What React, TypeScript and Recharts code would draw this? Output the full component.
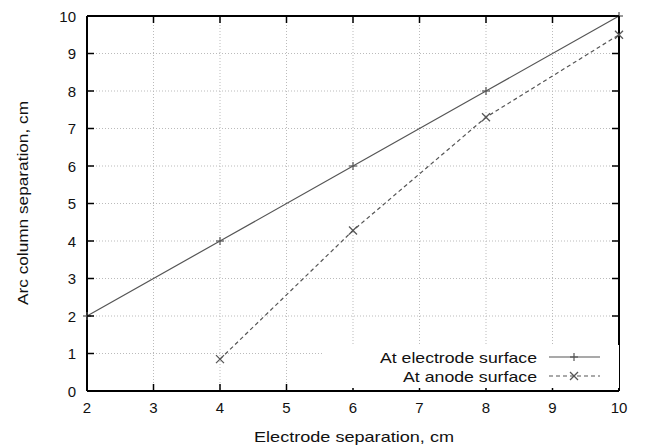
import React from 'react';
import { LineChart, Line, XAxis, YAxis, CartesianGrid, ReferenceLine } from 'recharts';

// electrode separation (cm) and arc column separation (cm)
const electrodeSep = [2, 4, 6, 8, 10];
const arcAtElectrode = [2, 4, 6, 8, 10];
const anodeSep = [4, 6, 8, 10];
const arcAtAnode = [0.85, 4.28, 7.3, 9.5];

const xTicks = [2, 3, 4, 5, 6, 7, 8, 9, 10];
const yTicks = [0, 1, 2, 3, 4, 5, 6, 7, 8, 9, 10];
const xEdges = [2, 10];
const yEdges = [0, 10];

const seriesNames = ['At electrode surface', 'At anode surface'];
const xTitle = 'Electrode separation, cm';
const yTitle = 'Arc column separation, cm';

const electrodeData = electrodeSep.map((x, i) => ({ x, y: arcAtElectrode[i] }));
const anodeData = anodeSep.map((x, i) => ({ x, y: arcAtAnode[i] }));

const FONT = '"Liberation Sans", Arial, sans-serif';
const LINE = '#555';
const TICK = 7;

const bottomTick = (p: any) => (
  <g>
    <line x1={p.x} y1={p.y} x2={p.x} y2={p.y - TICK} stroke="#000" strokeWidth={1.5} />
    <text x={p.x} y={p.y + 22} textAnchor="middle" fontSize={15} fontFamily={FONT} fill="#111">
      {p.payload.value}
    </text>
  </g>
);

const topTick = (p: any) => (
  <line x1={p.x} y1={p.y} x2={p.x} y2={p.y + TICK} stroke="#000" strokeWidth={1.5} />
);

const leftTick = (p: any) => (
  <g>
    <line x1={p.x} y1={p.y} x2={p.x + TICK} y2={p.y} stroke="#000" strokeWidth={1.5} />
    <text x={p.x - 11} y={p.y + 5.5} textAnchor="end" fontSize={15} fontFamily={FONT} fill="#111">
      {p.payload.value}
    </text>
  </g>
);

const rightTick = (p: any) => (
  <line x1={p.x} y1={p.y} x2={p.x - TICK} y2={p.y} stroke="#000" strokeWidth={1.5} />
);

const PlusDot: React.FC<any> = ({ cx, cy }) => (
  <g stroke={LINE} strokeWidth={1.2}>
    <line x1={cx - 4} y1={cy} x2={cx + 4} y2={cy} />
    <line x1={cx} y1={cy - 4} x2={cx} y2={cy + 4} />
  </g>
);

const CrossDot: React.FC<any> = ({ cx, cy }) => (
  <g stroke={LINE} strokeWidth={1.2}>
    <line x1={cx - 4} y1={cy - 4} x2={cx + 4} y2={cy + 4} />
    <line x1={cx - 4} y1={cy + 4} x2={cx + 4} y2={cy - 4} />
  </g>
);

// gnuplot-style key with white box in the lower right
const KeyBox: React.FC = () => {
  const widths = [157, 134];
  return (
    <svg width={296} height={43} style={{ display: 'block' }}>
      {seriesNames.map((name, i) => {
        const cy = 12 + i * 19;
        return (
          <g key={name}>
            <text x={214} y={cy + 5.5} textAnchor="end" fontSize={15} fontFamily={FONT} fill="#111"
              textLength={widths[i]} lengthAdjust="spacingAndGlyphs">
              {name}
            </text>
            <line x1={226} y1={cy} x2={277} y2={cy} stroke={LINE} strokeWidth={1.2} strokeDasharray={i ? '4 3' : undefined} />
            {i === 0 ? <PlusDot cx={251} cy={cy} /> : <CrossDot cx={251} cy={cy} />}
          </g>
        );
      })}
    </svg>
  );
};

export default function App() {
  return (
    <div style={{ position: 'relative', width: 649, height: 448, marginLeft: -8, marginTop: -8 }}>
      <LineChart width={649} height={448} data={electrodeData} margin={{ top: 15, right: 29, left: 0, bottom: 0 }}>
        <CartesianGrid stroke="#bbb" strokeDasharray="1 2" horizontalValues={yTicks} verticalValues={xTicks} />
        <XAxis
          dataKey="x"
          type="number"
          domain={[2, 10]}
          ticks={xTicks}
          height={57}
          stroke="#000"
          strokeWidth={2}
          tickSize={0}
          tickMargin={0}
          tickLine={false}
          tick={bottomTick}
        />
        <XAxis
          xAxisId="top"
          dataKey="x"
          orientation="top"
          type="number"
          domain={[2, 10]}
          ticks={xTicks}
          height={1}
          stroke="#000"
          strokeWidth={2}
          tickSize={0}
          tickMargin={0}
          tickLine={false}
          tick={topTick}
        />
        <YAxis
          type="number"
          domain={[0, 10]}
          ticks={yTicks}
          width={87}
          stroke="#000"
          strokeWidth={2}
          tickSize={0}
          tickMargin={0}
          tickLine={false}
          tick={leftTick}
        />
        <YAxis
          yAxisId="right"
          orientation="right"
          type="number"
          domain={[0, 10]}
          ticks={yTicks}
          width={1}
          stroke="#000"
          strokeWidth={2}
          tickSize={0}
          tickMargin={0}
          tickLine={false}
          tick={rightTick}
        />
        {/* plot frame along the domain edges */}
        {xEdges.map((v) => (
          <ReferenceLine key={`fx${v}`} x={v} stroke="#000" strokeWidth={2} ifOverflow="visible" />
        ))}
        {yEdges.map((v) => (
          <ReferenceLine key={`fy${v}`} y={v} stroke="#000" strokeWidth={2} ifOverflow="visible" />
        ))}
        <Line
          dataKey="y"
          name={seriesNames[0]}
          type="linear"
          stroke={LINE}
          strokeWidth={1.2}
          dot={<PlusDot />}
          activeDot={false}
          isAnimationActive={false}
        />
        <Line
          data={anodeData}
          xAxisId="top"
          yAxisId="right"
          dataKey="y"
          name={seriesNames[1]}
          type="linear"
          stroke={LINE}
          strokeWidth={1.2}
          strokeDasharray="4 3"
          dot={<CrossDot />}
          activeDot={false}
          isAnimationActive={false}
        />
      </LineChart>
      <svg width={649} height={448} style={{ position: 'absolute', left: 0, top: 0, pointerEvents: 'none' }}>
        <text x={354} y={442} textAnchor="middle" fontSize={15} fontFamily={FONT} fill="#111"
          textLength={200} lengthAdjust="spacingAndGlyphs">
          {xTitle}
        </text>
        <text x={22} y={203} transform="rotate(-90 22 203)" textAnchor="middle" dominantBaseline="central"
          fontSize={15} fontFamily={FONT} fill="#111" textLength={204} lengthAdjust="spacingAndGlyphs">
          {yTitle}
        </text>
      </svg>
      <div style={{ position: 'absolute', left: 323, top: 345, width: 296, height: 43, background: '#fff' }}>
        <KeyBox />
      </div>
    </div>
  );
}
